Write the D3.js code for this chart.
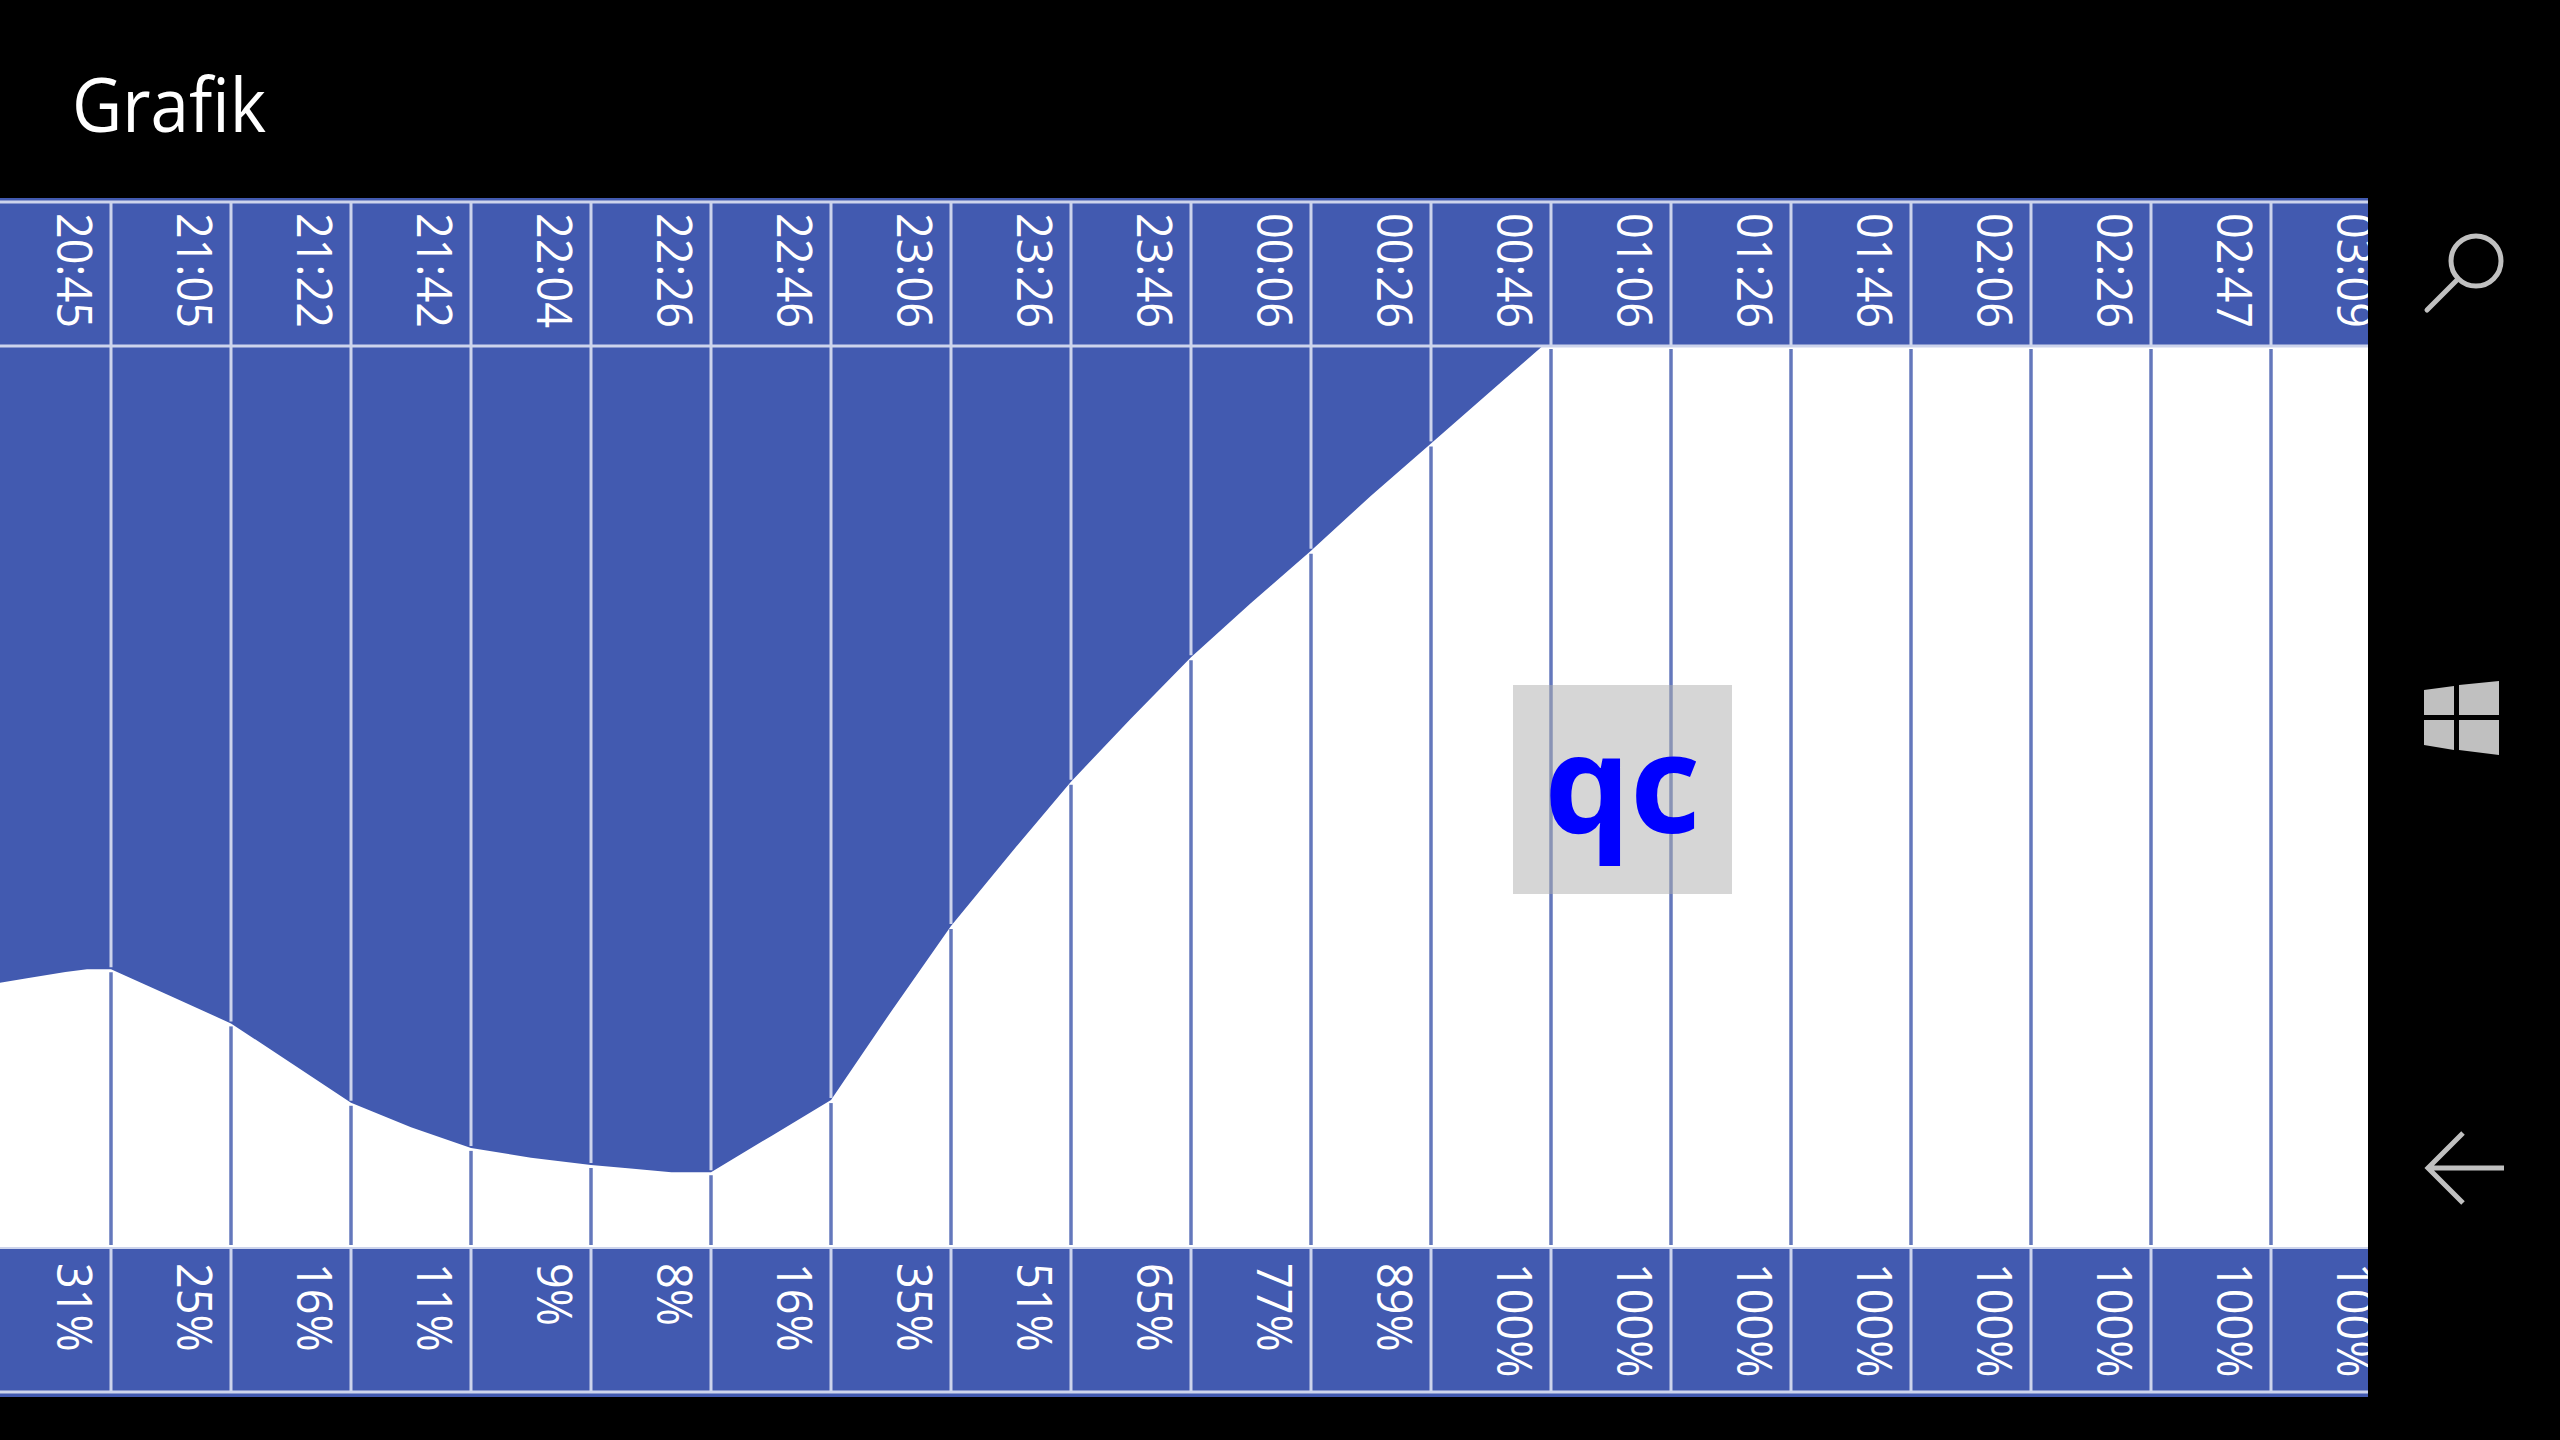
<!DOCTYPE html>
<html><head><meta charset="utf-8">
<script src="https://cdn.jsdelivr.net/npm/d3@7/dist/d3.min.js"></script>
<style>html,body{margin:0;background:#000}svg{display:block}</style></head>
<body><svg id="c" width="2560" height="1440"></svg>
<script>
const timeLabels=["20:45","21:05","21:22","21:42","22:04","22:26","22:46","23:06","23:26","23:46","00:06","00:26","00:46","01:06","01:26","01:46","02:06","02:26","02:47","03:09"];
const percentLabels=["31%","25%","16%","11%","9%","8%","16%","35%","51%","65%","77%","89%","100%","100%","100%","100%","100%","100%","100%","100%"];
const seriesIndex=[-0.925,-0.7,-0.38,-0.2,0,0.5,1,1.5,2,2.5,3,3.5,4,4.33,4.67,5,5.5,6,6.5,7,7.5,8,8.5,9,9.5,10,10.5,11,11.5,11.93,19];
const seriesValues=[29.4,29.9,30.6,30.9,30.9,27.9,24.9,20.5,16.1,13.4,11.1,10,9.2,8.8,8.4,8.4,12.4,16.4,26.2,35.7,43.8,51.7,58.7,65.5,71.5,77.3,83.4,89.2,95,100,100];
const gridIndex=d3.range(0,19);
const BLUE="#425ab0",LIGHT="#cdd4ec",MID="#6478bc";
const svg=d3.select("#c");
const x=d3.scaleLinear().domain([0,19]).range([111,2391]);
const y=d3.scaleLinear().domain([0,100]).range([1248,346]);
const R=2368;
const pts=seriesIndex.map((d,i)=>[d,seriesValues[i]]);
svg.append("defs").append("clipPath").attr("id","plot").append("rect").attr("x",0).attr("y",198).attr("width",R).attr("height",1199);
const g=svg.append("g").attr("clip-path","url(#plot)");
g.append("rect").attr("x",0).attr("y",198).attr("width",R).attr("height",1199).attr("fill",BLUE);
const area=d3.area().x(d=>x(d[0])).y0(1248).y1(d=>y(d[1])).curve(d3.curveLinear);
g.append("path").attr("d",area(pts)).attr("fill","#fff");
g.selectAll("line.h").data([202,346,1248,1392]).join("line").attr("x1",0).attr("x2",R).attr("y1",d=>d).attr("y2",d=>d)
 .attr("stroke",LIGHT).attr("stroke-width",d=>(d===1248?2:3));
const yAt=i=>y(seriesValues[seriesIndex.indexOf(i)]);
g.selectAll("line.u").data(gridIndex).join("line").attr("x1",x).attr("x2",x).attr("y1",202).attr("y2",i=>i<12?yAt(i)-2:345)
 .attr("stroke",LIGHT).attr("stroke-width",3);
g.selectAll("line.w").data(gridIndex).join("line").attr("x1",x).attr("x2",x).attr("y1",i=>i<12?yAt(i)+3:349).attr("y2",1245)
 .attr("stroke",MID).attr("stroke-width",3.5);
g.selectAll("line.b").data(gridIndex).join("line").attr("x1",x).attr("x2",x).attr("y1",1248).attr("y2",1392)
 .attr("stroke",LIGHT).attr("stroke-width",3);
const font="'Open Sans','Noto Sans',sans-serif";
function rot(t,ty){
 g.selectAll(null).data(t).join("text")
  .attr("transform",(d,i)=>`translate(${x(i-1)+66},${ty}) rotate(90) scale(0.92,1)`)
  .attr("font-family",font).attr("font-size",49).attr("fill","#fff").text(d=>d);
}
rot(timeLabels,213);
rot(percentLabels,1263);
svg.append("rect").attr("x",1513).attr("y",685).attr("width",219).attr("height",209).attr("fill","#adadad").attr("fill-opacity",0.5);
svg.append("text").attr("x",1622).attr("y",833).attr("text-anchor","middle").attr("font-family","'Noto Sans',sans-serif").attr("font-weight",700).attr("font-size",136).attr("fill","#0000ff").text("qc");
svg.append("text").attr("x",72).attr("y",132).attr("font-family",font).attr("font-size",75).attr("fill","#fff").attr("textLength",194).attr("lengthAdjust","spacingAndGlyphs").text("Grafik");
const ic="#c0c0c0";
svg.append("circle").attr("cx",2476).attr("cy",261).attr("r",25).attr("fill","none").attr("stroke",ic).attr("stroke-width",5);
svg.append("line").attr("x1",2458).attr("y1",279).attr("x2",2427).attr("y2",310).attr("stroke",ic).attr("stroke-width",5).attr("stroke-linecap","round");
svg.append("path").attr("fill",ic).attr("d","M2424 690L2454 686V715H2424ZM2459 685L2499 681V715H2459ZM2424 720H2454V750L2424 745ZM2459 720H2499V755L2459 750Z");
svg.append("path").attr("fill","none").attr("stroke",ic).attr("stroke-width",5).attr("d","M2463 1133L2428 1168L2463 1203M2428 1168H2504");
</script></body></html>
